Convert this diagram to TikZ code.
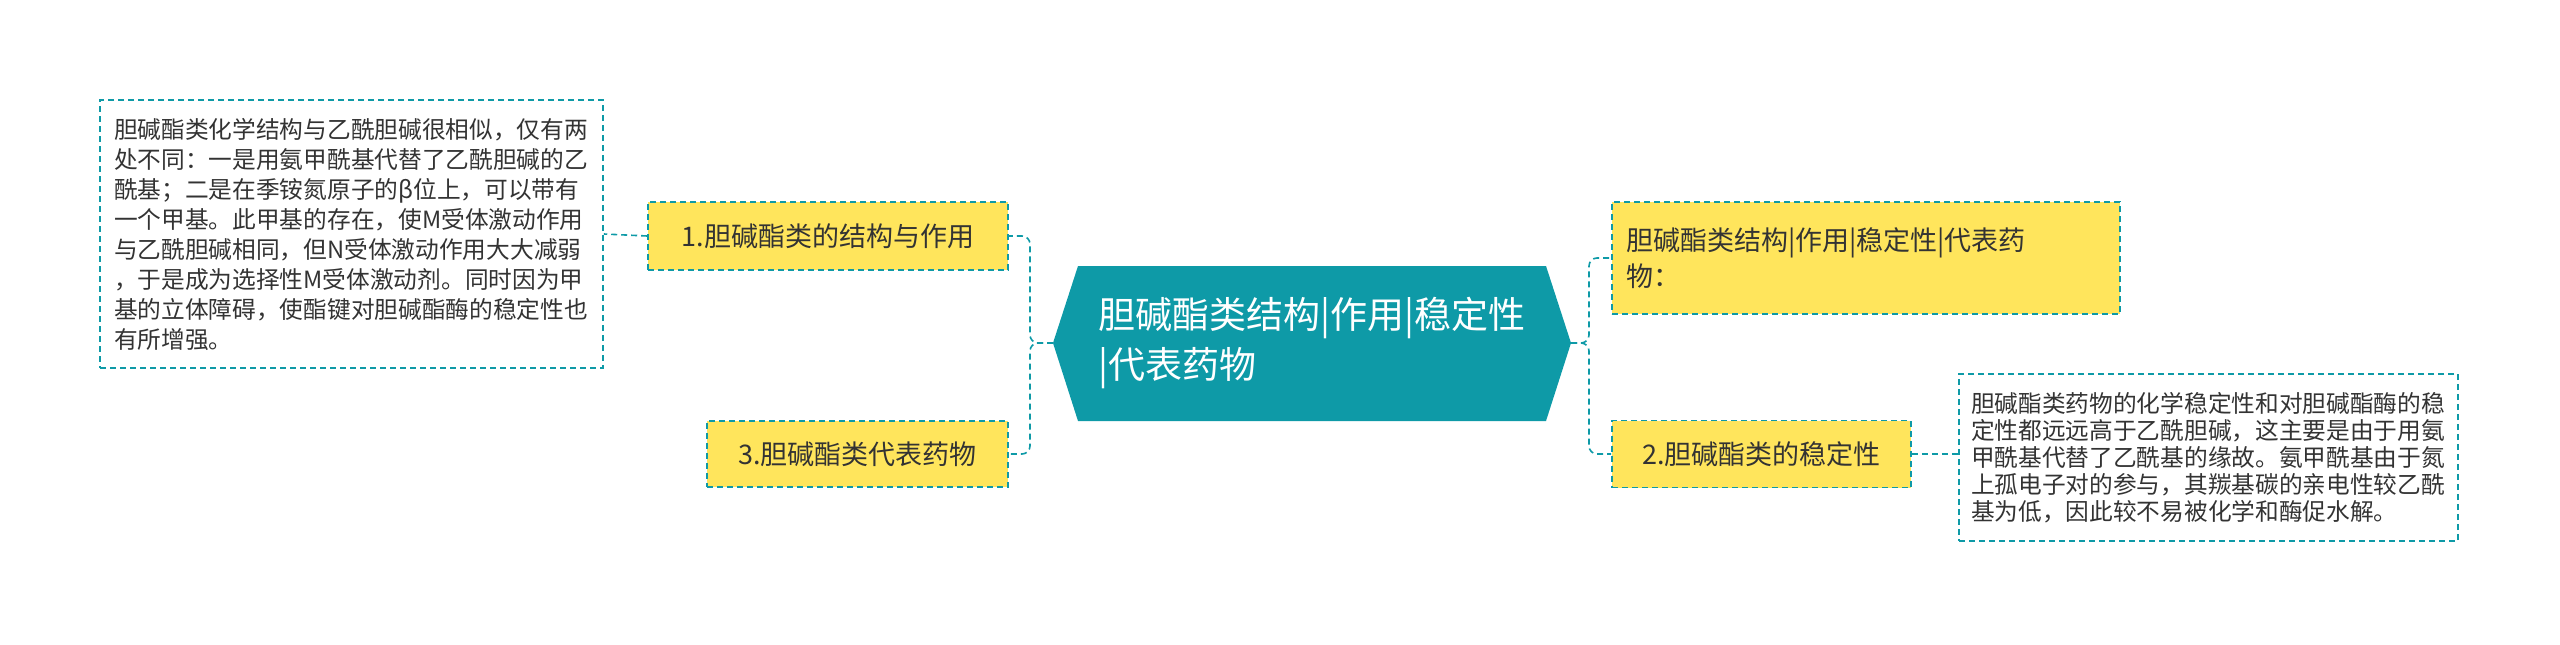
\documentclass[tikz,border=0pt]{standalone}
\usepackage{fontspec}
\setmainfont{Noto Sans CJK SC}
\begin{document}
\begin{tikzpicture}[x=1pt,y=-1pt]
\definecolor{teal}{HTML}{0E9AA7}
\definecolor{yel}{HTML}{FFE55C}
\definecolor{txt}{HTML}{333333}
\tikzset{
  topic/.style={draw=teal,dashed,line width=1.6pt,dash pattern=on 6pt off 4pt,fill=yel,inner sep=0pt,text=txt,font=\fontsize{27}{36}\selectfont,align=left},
  detail/.style={draw=teal,line width=1.6pt,dash pattern=on 6pt off 4pt,fill=white,inner sep=0pt,text=txt,align=left},
  conn/.style={draw=teal,line width=1.6pt,dash pattern=on 6pt off 4pt,rounded corners=8pt}
}
\useasboundingbox (0,0) rectangle (2560,645);
% hexagon
\fill[teal] (1053,343) -- (1078,266) -- (1546,266) -- (1571,343) -- (1546,421) -- (1078,421) -- cycle;
\node[text=white,font=\fontsize{37}{50}\selectfont,align=left] (c) at (1312,343) {胆碱酯类结构|作用|稳定性\\|代表药物};
\coordinate (cl) at (1053,343);
\coordinate (cr) at (1571,343);
% left topics
\node[topic,minimum width=360pt,minimum height=68pt] (n1) at (828,236) {1.胆碱酯类的结构与作用};
\node[topic,minimum width=301pt,minimum height=66pt] (n3) at (857.5,454) {3.胆碱酯类代表药物};
% right topics
\node[topic,minimum width=508pt,minimum height=112pt,text width=480pt] (r1) at (1866,258) {胆碱酯类结构|作用|稳定性|代表药\\物：};
\node[topic,minimum width=299pt,minimum height=67pt] (r2) at (1761.5,454) {2.胆碱酯类的稳定性};
% details
\node[detail,minimum width=503pt,minimum height=268pt,text width=475pt,font=\fontsize{23.7}{30}\selectfont] (d1) at (351.5,234) {胆碱酯类化学结构与乙酰胆碱很相似，仅有两\\处不同：一是用氨甲酰基代替了乙酰胆碱的乙\\酰基；二是在季铵氮原子的β位上，可以带有\\一个甲基。此甲基的存在，使M受体激动作用\\与乙酰胆碱相同，但N受体激动作用大大减弱\\，于是成为选择性M受体激动剂。同时因为甲\\基的立体障碍，使酯键对胆碱酯酶的稳定性也\\有所增强。};
\node[detail,minimum width=499pt,minimum height=167pt,text width=475pt,font=\fontsize{23.7}{27}\selectfont] (d2) at (2208.5,457.5) {胆碱酯类药物的化学稳定性和对胆碱酯酶的稳\\定性都远远高于乙酰胆碱，这主要是由于用氨\\甲酰基代替了乙酰基的缘故。氨甲酰基由于氮\\上孤电子对的参与，其羰基碳的亲电性较乙酰\\基为低，因此较不易被化学和酶促水解。};
% connectors
\draw[conn] (cl) -- (1030,343) |- (n1.east);
\draw[conn] (cl) -- (1030,343) |- (n3.east);
\draw[conn] (cr) -- (1589,343) |- (r1.west);
\draw[conn] (cr) -- (1589,343) |- (r2.west);
\draw[conn] (n1.west) -- (d1.east);
\draw[conn] (r2.east) -- (d2.west |- r2.east);
\end{tikzpicture}
\end{document}
